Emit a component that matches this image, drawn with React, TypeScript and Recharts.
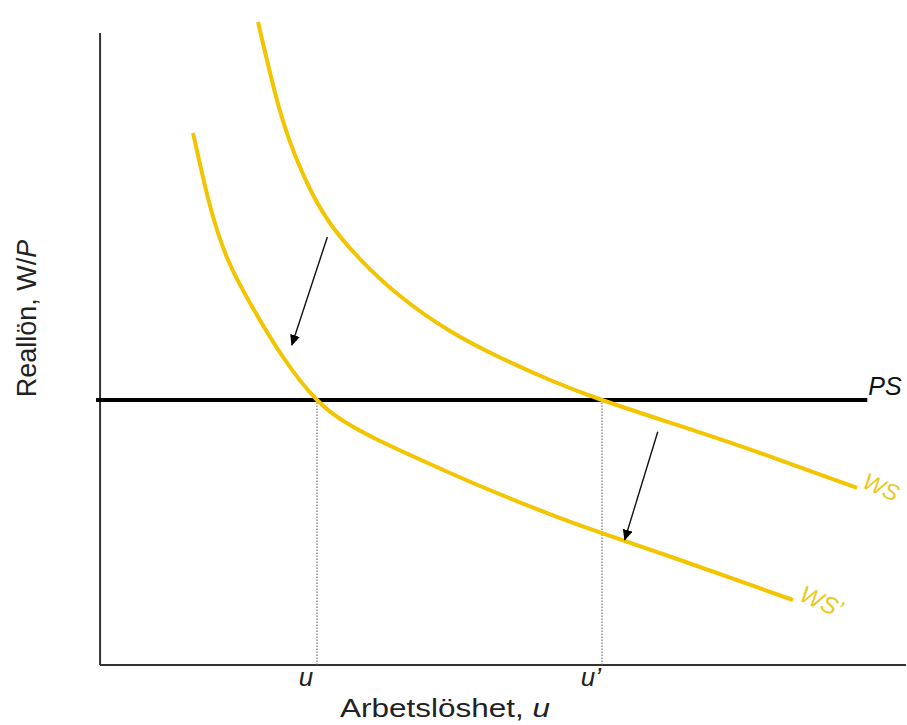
import React from 'react';
import {
  ComposedChart,
  Line,
  XAxis,
  YAxis,
  ReferenceLine,
  ReferenceDot
} from 'recharts';

// unemployment (u) and real wage (W/P), in the chart's own units
const wsU = [1.96, 2.208, 2.419, 2.63, 2.878, 3.226, 3.722, 4.342, 4.963, 5.583, 6.228, 7.196, 8.189, 9.392];
const wsW = [9.706, 8.468, 7.698, 7.125, 6.627, 6.128, 5.57, 5.042, 4.642, 4.302, 4.0, 3.608, 3.2, 2.672];

const wsPrimeU = [1.154, 1.365, 1.588, 1.861, 2.27, 2.692, 3.04, 3.474, 4.094, 4.715, 5.546, 6.228, 7.196, 8.598];
const wsPrimeW = [8.03, 6.928, 6.113, 5.464, 4.649, 4.0, 3.668, 3.381, 3.034, 2.702, 2.294, 1.992, 1.585, 0.981];

const psLevel = 4;
const psStart = -0.05;
const psEnd = 9.52;

// equilibrium unemployment before / after the shift
const equilibria = [2.692, 6.228];
const equilibriumLabels = ['u', 'u\u2019'];

// shift arrows: [fromU, fromW, toU, toW]
const arrows = [
  [2.82, 6.46, 2.38, 4.83],
  [6.92, 3.52, 6.51, 1.89]
];

const yAxisTop = 9.54;
const xAxisEnd = 10;

const YELLOW = '#F2C500';
const LABEL_YELLOW = '#E9C823';
const FONT = '"Liberation Sans", Arial, sans-serif';

const toPoints = (xs: number[], ys: number[]) => xs.map((x, i) => ({ x, y: ys[i] }));

const wsData = toPoints(wsU, wsW);
const wsPrimeData = toPoints(wsPrimeU, wsPrimeW);

const EquilibriumTick = (props: any) => {
  const { x, y, payload } = props;
  const idx = equilibria.indexOf(payload.value);
  return (
    <text
      x={x - 11}
      y={y + 13}
      textAnchor="middle"
      fontFamily={FONT}
      fontStyle="italic"
      fontSize={26}
      fill="#222"
    >
      {equilibriumLabels[idx] ?? ''}
    </text>
  );
};

const XTitle = (props: any) => {
  const vb = props.viewBox;
  return (
    <text
      x={vb.x + 248}
      y={vb.y + 52}
      fontFamily={FONT}
      fontSize={25}
      fill="#222"
      textLength={210}
      lengthAdjust="spacingAndGlyphs"
    >
      Arbetslöshet, <tspan fontStyle="italic">u</tspan>
    </text>
  );
};

const YTitle = (props: any) => {
  const vb = props.viewBox;
  const cx = vb.x + 36;
  const cy = vb.y + 316;
  return (
    <text
      x={cx}
      y={cy}
      transform={`rotate(-90 ${cx} ${cy})`}
      textAnchor="middle"
      fontFamily={FONT}
      fontSize={27}
      fill="#222"
    >
      Reallön, W/<tspan fontStyle="italic">P</tspan>
    </text>
  );
};

const curveLabel = (text: string, color: string, dx: number, dy: number, angle: number, size: number) =>
  (props: any) => {
    const x = props.cx + dx;
    const y = props.cy + dy;
    return (
      <text
        x={x}
        y={y}
        transform={angle ? `rotate(${angle} ${x} ${y})` : undefined}
        fontFamily={FONT}
        fontStyle="italic"
        fontSize={size}
        fill={color}
      >
        {text}
      </text>
    );
  };

export default function App() {
  return (
    <div style={{ position: 'absolute', left: 0, top: 0, background: '#fff' }}>
      <ComposedChart
        width={907}
        height={725}
        margin={{ top: 2.5, right: 1, bottom: 0, left: 0 }}
      >
        <defs>
          <marker
            id="arrowHead"
            markerWidth="11"
            markerHeight="10"
            refX="10"
            refY="5"
            orient="auto"
            markerUnits="userSpaceOnUse"
          >
            <path d="M0,0 L11,5 L0,10 z" fill="#000" />
          </marker>
        </defs>
        <XAxis
          type="number"
          dataKey="x"
          domain={[-0.1, 10]}
          allowDataOverflow
          height={60}
          ticks={equilibria}
          tick={<EquilibriumTick />}
          axisLine={false}
          tickLine={false}
          label={{ content: <XTitle /> }}
        />
        <YAxis
          type="number"
          domain={[0, 10]}
          allowDataOverflow
          width={92}
          tick={false}
          axisLine={false}
          tickLine={false}
          label={{ content: <YTitle /> }}
        />

        {/* axes */}
        <ReferenceLine
          segment={[{ x: 0, y: 0 }, { x: 0, y: yAxisTop }]}
          stroke="#333"
          strokeWidth={2}
        />
        <ReferenceLine
          segment={[{ x: 0, y: 0 }, { x: xAxisEnd, y: 0 }]}
          stroke="#333"
          strokeWidth={2}
        />

        {/* dotted guides down to the u axis */}
        {equilibria.map((u, i) => (
          <ReferenceLine
            key={`g${i}`}
            segment={[{ x: u, y: 0 }, { x: u, y: psLevel }]}
            stroke="#555"
            strokeWidth={1}
            strokeDasharray="1.5 1.5"
          />
        ))}

        <ReferenceLine
          segment={[{ x: psStart, y: psLevel }, { x: psEnd, y: psLevel }]}
          stroke="#000"
          strokeWidth={4}
        />

        <Line
          data={wsData}
          dataKey="y"
          type="natural"
          stroke={YELLOW}
          strokeWidth={4}
          dot={false}
          isAnimationActive={false}
        />
        <Line
          data={wsPrimeData}
          dataKey="y"
          type="natural"
          stroke={YELLOW}
          strokeWidth={4}
          dot={false}
          isAnimationActive={false}
        />

        {arrows.map((a, i) => (
          <Line
            key={`a${i}`}
            data={[{ x: a[0], y: a[1] }, { x: a[2], y: a[3] }]}
            dataKey="y"
            type="linear"
            stroke="#111"
            strokeWidth={1.4}
            dot={false}
            markerEnd="url(#arrowHead)"
            isAnimationActive={false}
          />
        ))}

        <ReferenceDot
          x={psEnd}
          y={psLevel}
          shape={curveLabel('PS', '#111', 1, -5, 0, 25)}
        />
        <ReferenceDot
          x={wsU[wsU.length - 1]}
          y={wsW[wsW.length - 1]}
          shape={curveLabel('WS', LABEL_YELLOW, 4, -1, 24, 23)}
        />
        <ReferenceDot
          x={wsPrimeU[wsPrimeU.length - 1]}
          y={wsPrimeW[wsPrimeW.length - 1]}
          shape={curveLabel('WS\u2019', LABEL_YELLOW, 5, 0, 24, 24)}
        />
      </ComposedChart>
    </div>
  );
}
